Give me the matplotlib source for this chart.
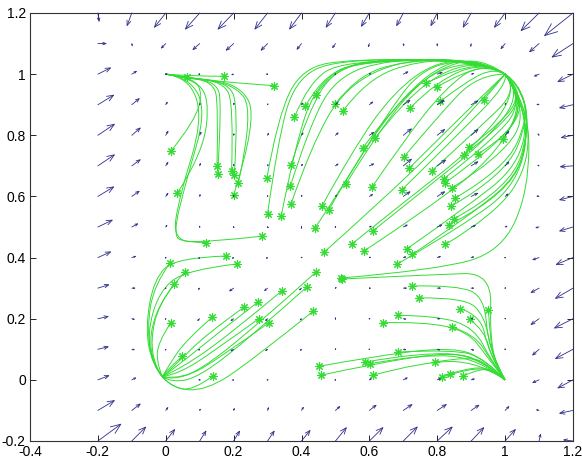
import numpy as np
import matplotlib
matplotlib.use('Agg')
import matplotlib.pyplot as plt
from matplotlib.path import Path
from matplotlib.patches import PathPatch

# quiver grid
grid_x = [-0.2, -0.1, 0.0, 0.1, 0.2, 0.3, 0.4, 0.5, 0.6, 0.7, 0.8, 0.9, 1.0, 1.1, 1.2]
grid_y = [-0.2, -0.1, 0.0, 0.1, 0.2, 0.3, 0.4, 0.5, 0.6, 0.7, 0.8, 0.9, 1.0, 1.1, 1.2]

# arrow components (rows = y from -0.2 up to 1.2)
U = [
    [0.070, 0.043, 0.028, 0.020, 0.019, 0.021, 0.027, 0.034, 0.042, 0.043, 0.046, 0.039, 0.032, 0.005, -0.030],
    [0.051, 0.027, 0.008, 0.003, 0.003, 0.004, 0.007, 0.015, 0.022, 0.028, 0.029, 0.025, 0.013, -0.010, -0.042],
    [0.035, 0.014, 0.000, -0.004, -0.006, -0.004, -0.001, 0.003, 0.008, 0.014, 0.012, 0.012, 0.000, -0.021, -0.047],
    [0.033, 0.010, -0.002, -0.005, -0.010, -0.008, -0.005, -0.001, 0.003, 0.010, 0.010, 0.010, 0.002, -0.021, -0.054],
    [0.033, 0.010, -0.003, -0.008, -0.010, -0.008, -0.006, 0.000, 0.004, 0.010, 0.010, 0.008, 0.003, -0.026, -0.057],
    [0.035, 0.012, -0.003, -0.006, -0.014, -0.011, -0.008, -0.002, 0.005, 0.012, 0.012, 0.010, 0.003, -0.026, -0.054],
    [0.040, 0.014, 0.002, -0.005, -0.006, -0.006, -0.003, 0.000, 0.006, 0.010, 0.012, 0.010, 0.003, -0.021, -0.052],
    [0.045, 0.020, 0.005, 0.000, -0.002, -0.002, 0.000, 0.003, 0.008, 0.014, 0.016, 0.015, 0.008, -0.012, -0.042],
    [0.049, 0.024, 0.008, 0.002, 0.001, 0.001, 0.002, 0.006, 0.012, 0.022, 0.024, 0.022, 0.011, -0.009, -0.042],
    [0.051, 0.027, 0.008, 0.003, 0.001, 0.002, 0.004, 0.010, 0.015, 0.026, 0.027, 0.022, 0.013, -0.006, -0.040],
    [0.051, 0.027, 0.008, 0.005, 0.002, 0.004, 0.006, 0.010, 0.015, 0.026, 0.024, 0.022, 0.013, -0.005, -0.037],
    [0.049, 0.024, 0.006, 0.002, 0.002, 0.002, 0.005, 0.008, 0.012, 0.022, 0.022, 0.022, 0.003, -0.009, -0.042],
    [0.040, 0.016, -0.002, -0.005, -0.008, -0.005, 0.000, 0.003, 0.006, 0.016, 0.017, 0.010, 0.000, -0.016, -0.047],
    [0.027, 0.002, -0.015, -0.022, -0.024, -0.021, -0.015, -0.010, -0.004, 0.002, 0.000, -0.002, -0.014, -0.030, -0.064],
    [0.004, -0.015, -0.035, -0.044, -0.048, -0.039, -0.037, -0.029, -0.025, -0.021, -0.020, -0.025, -0.033, -0.055, -0.086],
]
V = [
    [0.057, 0.048, 0.040, 0.035, 0.035, 0.035, 0.037, 0.046, 0.046, 0.048, 0.048, 0.046, 0.040, 0.025, 0.004],
    [0.034, 0.023, 0.012, 0.007, 0.009, 0.012, 0.013, 0.015, 0.019, 0.021, 0.021, 0.019, 0.015, 0.003, -0.010],
    [0.015, 0.008, 0.000, 0.000, -0.002, -0.001, 0.000, 0.002, 0.005, 0.008, 0.005, 0.004, 0.000, -0.010, -0.028],
    [0.009, -0.002, -0.006, -0.005, -0.007, -0.006, -0.006, -0.004, -0.003, -0.002, -0.003, -0.004, -0.004, -0.021, -0.032],
    [0.008, -0.003, -0.005, -0.008, -0.008, -0.008, -0.006, -0.003, -0.002, -0.002, 0.000, 0.000, 0.004, -0.021, -0.032],
    [0.012, 0.000, -0.004, -0.006, -0.011, -0.010, -0.008, -0.002, 0.000, 0.000, 0.000, 0.000, 0.004, -0.016, -0.035],
    [0.020, 0.005, 0.003, -0.005, -0.004, -0.004, -0.002, 0.000, 0.002, 0.003, 0.005, 0.003, 0.003, -0.008, -0.024],
    [0.024, 0.012, 0.008, 0.005, 0.003, 0.002, 0.002, 0.003, 0.004, 0.008, 0.008, 0.006, 0.004, -0.003, -0.014],
    [0.033, 0.019, 0.013, 0.009, 0.007, 0.006, 0.007, 0.006, 0.008, 0.017, 0.017, 0.012, 0.010, 0.002, -0.012],
    [0.038, 0.022, 0.014, 0.011, 0.008, 0.007, 0.008, 0.008, 0.008, 0.024, 0.021, 0.015, 0.015, 0.004, -0.003],
    [0.038, 0.026, 0.016, 0.013, 0.008, 0.009, 0.010, 0.010, 0.011, 0.023, 0.021, 0.021, 0.015, 0.007, -0.008],
    [0.033, 0.022, 0.011, 0.007, 0.008, 0.006, 0.008, 0.009, 0.011, 0.016, 0.016, 0.014, 0.008, 0.002, -0.011],
    [0.022, 0.011, 0.000, 0.000, -0.003, 0.000, 0.000, 0.002, 0.003, 0.009, 0.007, 0.003, 0.000, -0.008, -0.026],
    [0.000, -0.010, -0.017, -0.022, -0.024, -0.024, -0.021, -0.016, -0.013, -0.010, -0.010, -0.012, -0.019, -0.029, -0.046],
    [-0.030, -0.044, -0.049, -0.055, -0.055, -0.055, -0.055, -0.049, -0.046, -0.044, -0.044, -0.049, -0.049, -0.060, -0.076],
]

# trajectories: first point is the start (*), the rest are control points of the curve
to_one_one = [
    [(0.300, 0.543), (0.33, 0.78), (0.38, 0.98), (0.50, 1.05), (0.93, 1.045), (1, 1)],
    [(0.340, 0.535), (0.38, 0.76), (0.44, 0.96), (0.56, 1.05), (0.93, 1.045), (1, 1)],
    [(0.298, 0.660), (0.33, 0.86), (0.40, 1.02), (0.55, 1.05), (0.93, 1.045), (1, 1)],
    [(0.369, 0.702), (0.42, 0.88), (0.50, 1.02), (0.65, 1.05), (0.93, 1.045), (1, 1)],
    [(0.367, 0.633), (0.42, 0.82), (0.50, 0.99), (0.66, 1.05), (0.93, 1.045), (1, 1)],
    [(0.369, 0.575), (0.43, 0.77), (0.53, 0.96), (0.70, 1.05), (0.93, 1.045), (1, 1)],
    [(0.379, 0.859), (0.42, 0.97), (0.52, 1.045), (0.93, 1.045), (1, 1)],
    [(0.411, 0.895), (0.46, 0.99), (0.58, 1.045), (0.93, 1.045), (1, 1)],
    [(0.443, 0.933), (0.49, 1.01), (0.62, 1.045), (0.93, 1.045), (1, 1)],
    [(0.499, 0.902), (0.56, 0.99), (0.70, 1.045), (0.93, 1.045), (1, 1)],
    [(0.523, 0.881), (0.59, 0.98), (0.74, 1.045), (0.93, 1.045), (1, 1)],
    [(0.460, 0.568), (0.55, 0.75), (0.67, 0.94), (0.80, 1.045), (0.94, 1.04), (1, 1)],
    [(0.480, 0.555), (0.57, 0.73), (0.70, 0.93), (0.83, 1.045), (0.94, 1.04), (1, 1)],
    [(0.531, 0.641), (0.62, 0.80), (0.74, 0.97), (0.86, 1.045), (0.95, 1.04), (1, 1)],
    [(0.580, 0.758), (0.67, 0.89), (0.80, 1.02), (0.95, 1.04), (1, 1)],
    [(0.617, 0.791), (0.70, 0.91), (0.83, 1.02), (0.95, 1.035), (1, 1)],
    [(0.608, 0.631), (0.70, 0.78), (0.82, 0.95), (0.93, 1.04), (1, 1)],
    [(0.720, 0.889), (0.80, 0.98), (0.94, 1.04), (1, 1)],
    [(0.768, 0.971), (0.86, 1.02), (0.96, 1.03), (1, 1)],
    [(0.799, 0.958), (0.88, 1.01), (0.97, 1.025), (1, 1)],
    [(0.809, 0.911), (0.89, 0.98), (0.97, 1.02), (1, 1)],
    [(0.440, 0.497), (0.52, 0.63), (0.64, 0.85), (0.76, 1.03), (0.93, 1.045), (1, 1)],
    [(0.701, 0.728), (0.80, 0.86), (0.92, 1.00), (1, 1)],
    [(0.937, 0.917), (0.975, 0.965), (1, 1)],
    [(0.994, 0.789), (1.04, 0.86), (1.04, 0.96), (1, 1)],
    [(0.878, 0.737), (0.98, 0.82), (1.055, 0.93), (1, 1)],
    [(0.894, 0.761), (0.99, 0.84), (1.05, 0.94), (1, 1)],
    [(0.920, 0.739), (1.01, 0.80), (1.06, 0.92), (1, 1)],
    [(0.718, 0.693), (0.86, 0.85), (0.99, 0.99), (1, 1)],
    [(0.784, 0.684), (0.92, 0.82), (1.04, 0.95), (1, 1)],
    [(0.819, 0.658), (0.95, 0.77), (1.06, 0.91), (1, 1)],
    [(0.822, 0.644), (0.97, 0.76), (1.065, 0.90), (1, 1)],
    [(0.843, 0.628), (0.99, 0.73), (1.07, 0.88), (1, 1)],
    [(0.696, 0.622), (0.85, 0.79), (1.01, 0.97), (1, 1)],
    [(0.853, 0.595), (1.00, 0.69), (1.07, 0.86), (1.04, 0.97), (1, 1)],
    [(0.841, 0.568), (1.00, 0.67), (1.07, 0.85), (1.04, 0.97), (1, 1)],
    [(0.848, 0.526), (1.02, 0.63), (1.075, 0.84), (1.04, 0.97), (1, 1)],
    [(0.835, 0.508), (1.02, 0.61), (1.075, 0.83), (1.04, 0.97), (1, 1)],
    [(0.711, 0.429), (0.88, 0.56), (1.04, 0.70), (1.07, 0.88), (1, 1)],
    [(0.727, 0.411), (0.90, 0.54), (1.05, 0.68), (1.07, 0.88), (1, 1)],
    [(0.681, 0.378), (0.87, 0.50), (1.04, 0.64), (1.075, 0.87), (1, 1)],
    [(0.824, 0.443), (0.97, 0.54), (1.07, 0.70), (1.065, 0.90), (1, 1)],
    [(0.610, 0.487), (0.76, 0.62), (0.95, 0.79), (1.05, 0.94), (1, 1)],
    [(0.549, 0.445), (0.70, 0.58), (0.92, 0.77), (1.04, 0.95), (1, 1)],
    [(0.585, 0.422), (0.76, 0.55), (0.97, 0.73), (1.06, 0.92), (1, 1)],
    [(0.467, 0.418), (0.60, 0.55), (0.82, 0.78), (0.99, 0.99), (1, 1)],
    [(0.516, 0.333), (0.80, 0.36), (0.99, 0.42), (1.07, 0.62), (1.07, 0.90), (1, 1)],
]

to_zero_one = [
    [(0.062, 0.990), (0.03, 0.997), (0, 1)],
    [(0.015, 0.748), (0.09, 0.85), (0.11, 0.96), (0.05, 0.995), (0, 1)],
    [(0.034, 0.611), (0.11, 0.74), (0.13, 0.93), (0.07, 0.99), (0, 1)],
    [(0.151, 0.699), (0.155, 0.90), (0.14, 0.975), (0.05, 0.99), (0, 1)],
    [(0.153, 0.674), (0.165, 0.90), (0.15, 0.975), (0.05, 0.99), (0, 1)],
    [(0.194, 0.682), (0.20, 0.90), (0.17, 0.975), (0.05, 0.99), (0, 1)],
    [(0.202, 0.669), (0.215, 0.90), (0.18, 0.975), (0.05, 0.99), (0, 1)],
    [(0.214, 0.644), (0.26, 0.88), (0.20, 0.97), (0.05, 0.99), (0, 1)],
    [(0.200, 0.604), (0.27, 0.85), (0.22, 0.97), (0.05, 0.99), (0, 1)],
    [(0.320, 0.962), (0.20, 0.972), (0.08, 0.985), (0, 1)],
    [(0.171, 0.993), (0.08, 0.993), (0, 1)],
    [(0.284, 0.470), (0.12, 0.450), (0.02, 0.455), (0.04, 0.60), (0.11, 0.85), (0.07, 0.99), (0, 1)],
    [(0.120, 0.449), (0.06, 0.45), (0.02, 0.47), (0.06, 0.65), (0.12, 0.88), (0.07, 0.99), (0, 1)],
]

to_zero_zero = [
    [(0.0125, 0.382), (-0.035, 0.31), (-0.055, 0.17), (-0.04, 0.05), (-0.01, 0.01)],
    [(0.057, 0.353), (-0.005, 0.28), (-0.05, 0.15), (-0.035, 0.045), (-0.01, 0.01)],
    [(0.025, 0.313), (-0.02, 0.25), (-0.045, 0.13), (-0.03, 0.04), (-0.01, 0.01)],
    [(0.177, 0.405), (0.03, 0.40), (-0.035, 0.33), (-0.06, 0.17), (-0.04, 0.05), (-0.01, 0.01)],
    [(0.209, 0.379), (0.06, 0.36), (-0.02, 0.29), (-0.055, 0.15), (-0.035, 0.045), (-0.01, 0.01)],
    [(0.015, 0.187), (-0.025, 0.12), (-0.025, 0.05), (-0.01, 0.01)],
    [(0.137, 0.205), (0.06, 0.13), (0.01, 0.05), (-0.01, 0.01)],
    [(0.231, 0.238), (0.12, 0.15), (0.03, 0.05), (-0.01, 0.01)],
    [(0.272, 0.255), (0.15, 0.15), (0.04, 0.05), (-0.01, 0.01)],
    [(0.274, 0.200), (0.15, 0.10), (0.04, 0.02), (-0.01, 0.01)],
    [(0.304, 0.187), (0.17, 0.08), (0.05, 0.0), (-0.01, 0.01)],
    [(0.342, 0.291), (0.19, 0.15), (0.05, 0.04), (-0.01, 0.01)],
    [(0.443, 0.353), (0.26, 0.17), (0.10, 0.03), (0.02, 0.0), (-0.01, 0.01)],
    [(0.416, 0.304), (0.25, 0.14), (0.10, 0.01), (0.02, -0.01), (-0.01, 0.01)],
    [(0.435, 0.225), (0.25, 0.06), (0.12, -0.035), (0.02, -0.03), (-0.01, 0.01)],
    [(0.138, 0.012), (0.08, -0.035), (0.02, -0.025), (-0.01, 0.01)],
    [(0.049, 0.077), (0.0, 0.03), (-0.01, 0.01)],
]

to_one_zero = [
    [(0.520, 0.330), (0.80, 0.345), (0.96, 0.35), (0.955, 0.15), (0.975, 0.04), (1, 0)],
    [(0.727, 0.307), (0.86, 0.31), (0.94, 0.27), (0.95, 0.10), (1, 0)],
    [(0.745, 0.268), (0.88, 0.27), (0.94, 0.21), (0.96, 0.08), (1, 0)],
    [(0.868, 0.233), (0.93, 0.21), (0.95, 0.09), (1, 0)],
    [(0.896, 0.198), (0.94, 0.16), (0.96, 0.07), (1, 0)],
    [(0.951, 0.230), (0.955, 0.14), (0.97, 0.05), (1, 0)],
    [(0.843, 0.173), (0.91, 0.15), (0.96, 0.06), (1, 0)],
    [(0.641, 0.187), (0.76, 0.19), (0.89, 0.16), (0.95, 0.07), (1, 0)],
    [(0.684, 0.211), (0.80, 0.21), (0.91, 0.17), (0.96, 0.06), (1, 0)],
    [(0.684, 0.091), (0.85, 0.10), (0.94, 0.07), (1, 0)],
    [(0.794, 0.058), (0.90, 0.08), (0.96, 0.04), (1, 0)],
    [(0.814, 0.009), (0.90, 0.04), (0.965, 0.03), (1, 0)],
    [(0.838, 0.020), (0.91, 0.045), (0.97, 0.03), (1, 0)],
    [(0.875, 0.012), (0.93, 0.04), (0.975, 0.025), (1, 0)],
    [(0.451, 0.044), (0.60, 0.075), (0.85, 0.11), (0.95, 0.06), (1, 0)],
    [(0.457, 0.015), (0.60, 0.05), (0.85, 0.095), (0.95, 0.05), (1, 0)],
    [(0.587, 0.058), (0.75, 0.09), (0.92, 0.08), (1, 0)],
    [(0.603, 0.053), (0.76, 0.085), (0.92, 0.07), (1, 0)],
    [(0.610, 0.015), (0.76, 0.06), (0.92, 0.06), (1, 0)],
]

x_ticks = [-0.4, -0.2, 0, 0.2, 0.4, 0.6, 0.8, 1, 1.2]
y_ticks = [-0.2, 0, 0.2, 0.4, 0.6, 0.8, 1, 1.2]
x_labels = ['-0.4', '-0.2', '0', '0.2', '0.4', '0.6', '0.8', '1', '1.2']
y_labels = ['-0.2', '0', '0.2', '0.4', '0.6', '0.8', '1', '1.2']

arrow_color = '#2e2e8a'
traj_color = '#33dd33'


def smooth_path(pts):
    # quadratic b-spline through the control polygon
    if len(pts) == 2:
        return Path([pts[0], pts[1]], [Path.MOVETO, Path.LINETO])
    verts = [pts[0]]
    codes = [Path.MOVETO]
    for i in range(1, len(pts) - 1):
        verts.append(pts[i])
        if i < len(pts) - 2:
            verts.append(((pts[i][0] + pts[i + 1][0]) / 2, (pts[i][1] + pts[i + 1][1]) / 2))
        else:
            verts.append(pts[-1])
        codes += [Path.CURVE3, Path.CURVE3]
    return Path(verts, codes)


plt.rcParams['font.family'] = ['Liberation Sans', 'DejaVu Sans']
fig = plt.figure(figsize=(5.82, 4.58), dpi=100)
ax = fig.add_axes([30 / 582, 17 / 458, 543 / 582, 428 / 458])
ax.set_xlim(-0.4, 1.2)
ax.set_ylim(-0.2, 1.2)

# vector field, drawn as open-headed line arrows
for j, yv in enumerate(grid_y):
    for i, xv in enumerate(grid_x):
        u, v = U[j][i], V[j][i]
        p0 = ax.transData.transform((xv, yv))
        p1 = ax.transData.transform((xv + u, yv + v))
        length = np.hypot(*(p1 - p0)) * 72 / fig.dpi
        if length < 0.3:
            continue
        ax.annotate('', xy=(xv + u, yv + v), xytext=(xv, yv),
                    arrowprops=dict(arrowstyle='->,head_length=0.45,head_width=0.18',
                                    color=arrow_color, lw=0.6, shrinkA=0, shrinkB=0,
                                    mutation_scale=max(length * 0.75, 1.0)),
                    annotation_clip=False)

for group in [to_one_one, to_zero_one, to_zero_zero, to_one_zero]:
    for pts in group:
        ax.add_patch(PathPatch(smooth_path(pts), facecolor='none', edgecolor=traj_color, lw=0.7))
        ax.plot(pts[0][0], pts[0][1], marker=(8, 2, 0), color=traj_color, markersize=6, mew=0.8)

ax.set_xticks(x_ticks)
ax.set_xticklabels(x_labels)
ax.set_yticks(y_ticks)
ax.set_yticklabels(y_labels)
ax.tick_params(direction='in', length=4, width=0.6, labelsize=10, pad=3, top=True, right=True,
               labeltop=False, labelright=False)
for s in ax.spines.values():
    s.set_linewidth(0.8)
    s.set_color('#333333')

fig.savefig('out.png', dpi=100)
